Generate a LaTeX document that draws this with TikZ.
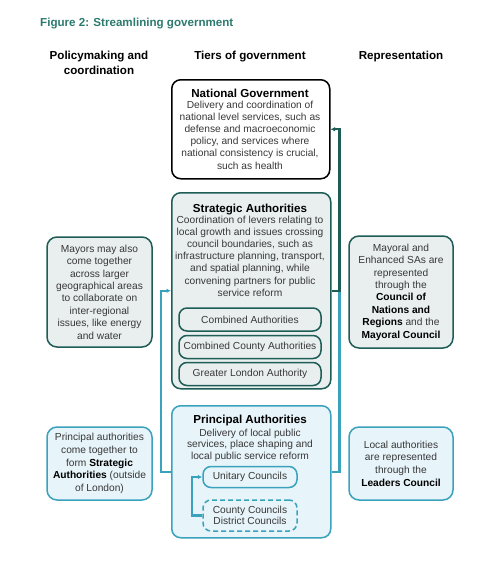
\documentclass[tikz,border=0pt]{standalone}
\usepackage{fontspec}
\setmainfont{Liberation Sans}
\usetikzlibrary{arrows.meta}
\definecolor{dteal}{HTML}{1E5C56}
\definecolor{ttl}{HTML}{2C7A6E}
\definecolor{lblue}{HTML}{3AA2BD}
\definecolor{gfill}{HTML}{E9EFEF}
\definecolor{bfill}{HTML}{E7F4F9}
\definecolor{txtc}{HTML}{383838}
\newcommand\hb[1]{\textbf{\color{black}#1}}
\begin{document}
\begin{tikzpicture}[x=1pt,y=-1pt,
  txt/.style={inner sep=0, align=center, text=txtc, font=\fontsize{10.2}{12.2}\selectfont},
  hdr/.style={inner sep=0, align=center, text=black, font=\bfseries\fontsize{11.6}{15}\selectfont},
  boxttl/.style={inner sep=0, text=black, font=\bfseries\fontsize{11.6}{14}\selectfont},
  tier/.style={rounded corners=9, line width=1.5, inner sep=0},
  sub/.style={rounded corners=8, line width=1.5, inner sep=0, align=center, text=txtc, font=\fontsize{10.2}{11.5}\selectfont},
  side/.style={rounded corners=10, line width=1.5, inner sep=0, align=center, text=txtc, font=\fontsize{10.2}{12.4}\selectfont},
  conn/.style={line width=2.2},
  tip/.style={-{Latex[length=4.5pt,width=4.5pt]}}
]
\fill[white] (0,0) rectangle (500,587);
\useasboundingbox (0,0) rectangle (500,587);

\node[anchor=base west, inner sep=0, font=\bfseries\fontsize{11.6}{14}\selectfont, text=ttl] (fig) at (40,26) {Figure 2: Streamlining government};

\node[hdr, anchor=north] (h1) at (99,51) {Policymaking and\\coordination};
\node[hdr, anchor=north] (h2) at (250,51) {Tiers of government};
\node[hdr, anchor=north] (h3) at (401,51) {Representation};

% tier boxes
\node[tier, draw=black, fill=white, minimum width=158, minimum height=99, anchor=north west] (ng) at (171,79) {};
\node[tier, draw=dteal, fill=gfill, minimum width=159, minimum height=196, anchor=north west] (sa) at (171,192) {};
\node[tier, draw=lblue, fill=bfill, minimum width=159, minimum height=132, anchor=north west] (pa) at (171,405) {};

\node[boxttl, anchor=base] (ngh) at (250,97) {National Government};
\node[txt, anchor=north] (ngb) at (250,100.5) {Delivery and coordination of\\national level services, such as\\defense and macroeconomic\\policy, and services where\\national consistency is crucial,\\such as health};

\node[boxttl, anchor=base] (sah) at (250,212) {Strategic Authorities};
\node[txt, anchor=north] (sab) at (250,215.5) {Coordination of levers relating to\\local growth and issues crossing\\council boundaries, such as\\infrastructure planning, transport,\\and spatial planning, while\\convening partners for public\\service reform};

\node[sub, draw=dteal, fill=gfill, minimum width=142, minimum height=23] (ca) at (250,319.5) {Combined Authorities};
\node[sub, draw=dteal, fill=gfill, minimum width=142, minimum height=23] (cca) at (250,347) {Combined County Authorities};
\node[sub, draw=dteal, fill=gfill, minimum width=142, minimum height=23] (gla) at (250,374) {Greater London Authority};

\node[boxttl, anchor=base] (pah) at (250,423) {Principal Authorities};
\node[txt, anchor=north, font=\fontsize{10.2}{11.6}\selectfont] (pab) at (250,428.5) {Delivery of local public\\services, place shaping and\\local public service reform};

\node[sub, draw=lblue, fill=bfill, minimum width=94, minimum height=21] (uc) at (250,477) {Unitary Councils};
\node[sub, draw=lblue, fill=bfill, dash pattern=on 5pt off 3pt, minimum width=94, minimum height=31] (dc) at (250,515.5) {County Councils\\District Councils};

% side boxes
\node[side, draw=dteal, fill=gfill, minimum width=105, minimum height=110] (my) at (99.5,292) {Mayors may also\\come together\\across larger\\geographical areas\\to collaborate on\\inter-regional\\issues, like energy\\and water};
\node[side, draw=lblue, fill=bfill, minimum width=105, minimum height=73, font=\fontsize{10.2}{12.7}\selectfont] (pl) at (99.5,463.5) {Principal authorities\\come together to\\form \hb{Strategic}\\\hb{Authorities} (outside\\of London)};
\node[side, draw=dteal, fill=gfill, minimum width=104, minimum height=112] (mr) at (401,292) {Mayoral and\\Enhanced SAs are\\represented\\through the\\\hb{Council of}\\\hb{Nations and}\\\hb{Regions} and the\\\hb{Mayoral Council}};
\node[side, draw=lblue, fill=bfill, minimum width=104, minimum height=73, font=\fontsize{10.2}{12.7}\selectfont] (lc) at (401,463.5) {Local authorities\\are represented\\through the\\\hb{Leaders Council}};

% connectors
\draw[conn, lblue] (pa.east) -- ++(8,0) |- (sa.east);
\draw[conn, dteal, tip] (sa.east) -- ++(8,0) |- (ng.east);
\draw[conn, lblue, tip] (pa.west) -- ++(-10,0) |- (sa.west);
\draw[conn, lblue, tip] (dc.west) -- ++(-10,0) |- (uc.west);
\end{tikzpicture}
\end{document}
